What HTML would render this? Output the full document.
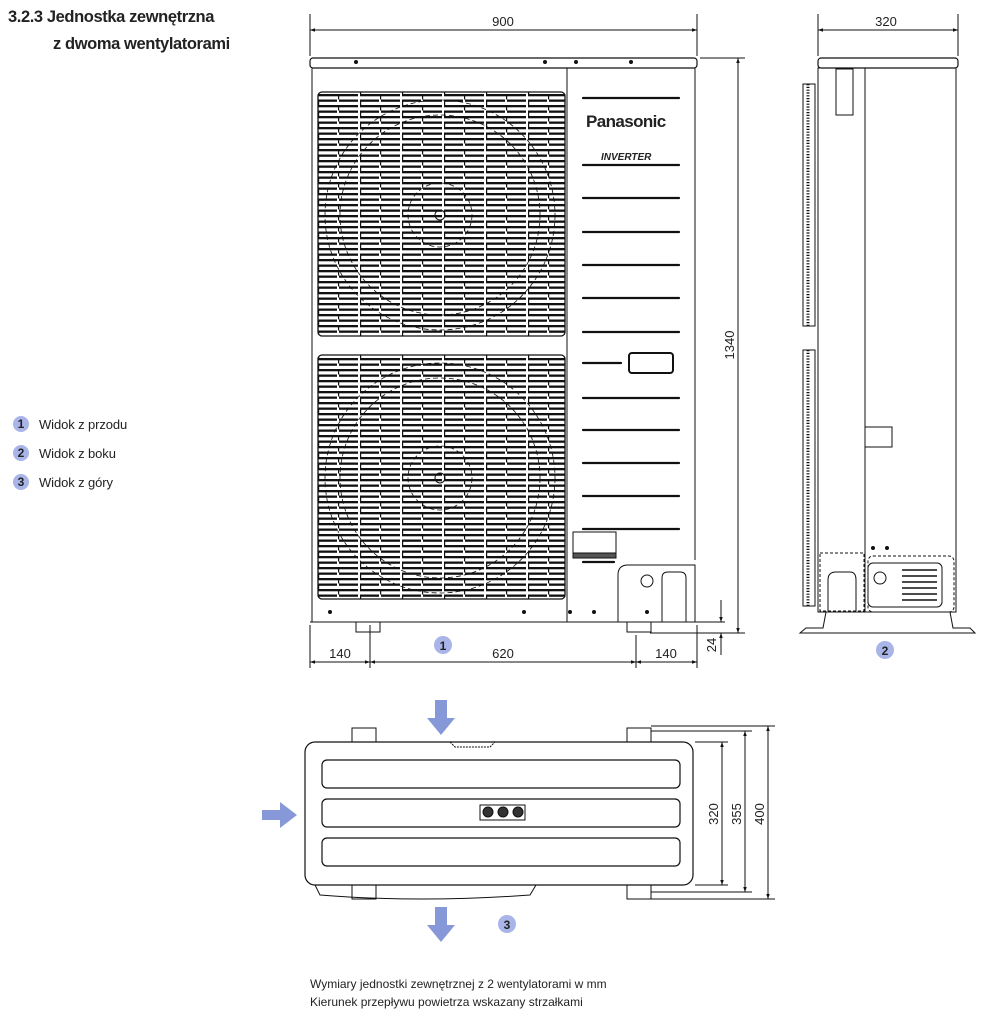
<!DOCTYPE html>
<html><head><meta charset="utf-8">
<style>
html,body{margin:0;padding:0;background:#fff;}
body{width:993px;height:1023px;position:relative;overflow:hidden;font-family:"Liberation Sans",sans-serif;}
.h{position:absolute;font-weight:bold;font-size:16.5px;color:#222;letter-spacing:-0.4px;}
.lg{position:absolute;left:12px;font-size:13px;color:#222;letter-spacing:-0.1px}
.cap{position:absolute;left:310px;font-size:12px;color:#222;}
</style></head><body>
<div class="h" style="left:8px;top:8px">3.2.3 Jednostka zewnętrzna</div>
<div class="h" style="left:53px;top:35px">z dwoma wentylatorami</div>
<div class="cap" style="top:977px">Wymiary jednostki zewnętrznej z 2 wentylatorami w mm</div>
<div class="cap" style="top:995px">Kierunek przepływu powietrza wskazany strzałkami</div>

<svg width="993" height="1023" style="position:absolute;left:0;top:0" xmlns="http://www.w3.org/2000/svg">
<defs>
<pattern id="br" width="42" height="11" patternUnits="userSpaceOnUse" x="318" y="94">
<rect width="42" height="11" fill="#fff"/>
<rect x="0" y="0" width="40" height="2.3" fill="#111"/>
<rect x="0" y="5.5" width="19" height="2.3" fill="#111"/>
<rect x="21" y="5.5" width="19" height="2.3" fill="#111"/>
<rect x="20" y="0" width="1.2" height="5.5" fill="#111"/>
<rect x="0" y="5.5" width="1.2" height="5.5" fill="#111"/>
</pattern>
<marker id="a" viewBox="0 0 10 10" refX="10" refY="5" markerWidth="7" markerHeight="5" orient="auto-start-reverse"><path d="M0,1.5 L10,5 L0,8.5z" fill="#111"/></marker>
</defs>
<g stroke="#111" fill="none" stroke-width="1">
<!-- FRONT VIEW -->
<line x1="310" y1="14" x2="310" y2="56"/><line x1="697" y1="14" x2="697" y2="56"/>
<line x1="310" y1="30" x2="697" y2="30" marker-start="url(#a)" marker-end="url(#a)"/>
<rect x="310" y="58" width="387" height="10" rx="3" stroke-width="1.2"/>
<line x1="312" y1="68" x2="312" y2="622"/><line x1="695" y1="68" x2="695" y2="560"/>
<line x1="567" y1="68" x2="567" y2="622"/>
<line x1="310" y1="622" x2="697" y2="622"/>
<rect x="318" y="92" width="247" height="244" rx="4" fill="url(#br)" stroke-width="1.3"/>
<rect x="318" y="355" width="247" height="244" rx="4" fill="url(#br)" stroke-width="1.3"/>
<g stroke-dasharray="5,3" stroke-width="0.8">
<circle cx="440" cy="215" r="115"/><circle cx="440" cy="215" r="100"/><circle cx="440" cy="215" r="32"/>
<circle cx="440" cy="478" r="115"/><circle cx="440" cy="478" r="100"/><circle cx="440" cy="478" r="32"/>
</g>
<circle cx="440" cy="215" r="5"/><circle cx="440" cy="478" r="5"/>
<g fill="#111" stroke="none">
<circle cx="356" cy="62" r="2"/><circle cx="545" cy="62" r="2"/><circle cx="576" cy="62" r="2"/><circle cx="631" cy="62" r="2"/>
<circle cx="330" cy="612" r="2"/><circle cx="524" cy="612" r="2"/><circle cx="570" cy="612" r="2"/><circle cx="594" cy="612" r="2"/><circle cx="647" cy="612" r="2"/>
</g>
<g stroke-width="2.2" stroke-linecap="round">
<line x1="583" y1="98" x2="679" y2="98"/><line x1="583" y1="165" x2="679" y2="165"/><line x1="583" y1="198" x2="679" y2="198"/>
<line x1="583" y1="232" x2="679" y2="232"/><line x1="583" y1="265" x2="679" y2="265"/><line x1="583" y1="298" x2="679" y2="298"/>
<line x1="583" y1="332" x2="679" y2="332"/><line x1="583" y1="363" x2="621" y2="363"/><line x1="583" y1="398" x2="679" y2="398"/>
<line x1="583" y1="430" x2="679" y2="430"/><line x1="583" y1="463" x2="679" y2="463"/><line x1="583" y1="496" x2="679" y2="496"/>
<line x1="583" y1="529" x2="679" y2="529"/><line x1="583" y1="562" x2="614" y2="562"/>
</g>
<rect x="629" y="353" width="44" height="20" rx="3" stroke-width="2"/>
<rect x="573" y="532" width="43" height="26" fill="#fff"/>
<rect x="573" y="553" width="43" height="5" fill="#555"/>
<path d="M618,622 V575 Q618,565 628,565 H695 V622" />
<circle cx="647" cy="581" r="6"/><path d="M662,622 V578 Q662,572 668,572 H680 Q686,572 686,578 V622"/>
<path d="M356,622 v10 h24 v-10 M627,622 v10 h24 v-10"/>
<line x1="310" y1="625" x2="310" y2="668"/><line x1="370" y1="625" x2="370" y2="668"/><line x1="636" y1="635" x2="636" y2="668"/><line x1="697" y1="625" x2="697" y2="668"/>
<line x1="310" y1="662" x2="370" y2="662" marker-start="url(#a)" marker-end="url(#a)"/>
<line x1="370" y1="662" x2="636" y2="662" marker-start="url(#a)" marker-end="url(#a)"/>
<line x1="636" y1="662" x2="697" y2="662" marker-start="url(#a)" marker-end="url(#a)"/>
<line x1="700" y1="58" x2="745" y2="58"/><line x1="650" y1="633" x2="745" y2="633"/><line x1="697" y1="622" x2="725" y2="622"/>
<line x1="738" y1="58" x2="738" y2="633" marker-start="url(#a)" marker-end="url(#a)"/>
<line x1="721" y1="600" x2="721" y2="622" marker-end="url(#a)"/><line x1="721" y1="655" x2="721" y2="633" marker-end="url(#a)"/>

<!-- SIDE VIEW -->
<line x1="818" y1="14" x2="818" y2="56"/><line x1="958" y1="14" x2="958" y2="56"/>
<line x1="818" y1="30" x2="958" y2="30" marker-start="url(#a)" marker-end="url(#a)"/>
<rect x="818" y="58" width="140" height="10" rx="3" stroke-width="1.2"/>
<rect x="818" y="68" width="138" height="544"/>
<line x1="865" y1="68" x2="865" y2="612"/>
<rect x="836" y="69" width="17" height="46"/>
<g stroke-width="3" stroke-dasharray="1.2,1.6"><line x1="808" y1="84" x2="808" y2="326"/><line x1="808" y1="350" x2="808" y2="606"/></g>
<rect x="803" y="84" width="12" height="242"/><rect x="803" y="350" width="12" height="256"/>
<rect x="865" y="427" width="27" height="20"/>
<rect x="820" y="553" width="44" height="58" stroke-dasharray="3,2"/>
<path d="M828,611 V580 q0,-8 8,-8 h14 q6,0 6,8 V611"/>
<rect x="868" y="556" width="86" height="56" rx="5" stroke-dasharray="3,2"/>
<rect x="868" y="563" width="74" height="44" rx="5"/>
<circle cx="880" cy="578" r="6"/>
<g stroke-width="1.5"><line x1="902" y1="570" x2="937" y2="570"/><line x1="902" y1="576" x2="937" y2="576"/><line x1="902" y1="582" x2="937" y2="582"/><line x1="902" y1="588" x2="937" y2="588"/><line x1="902" y1="594" x2="937" y2="594"/><line x1="902" y1="600" x2="937" y2="600"/></g>
<g fill="#111" stroke="none"><circle cx="873" cy="548" r="2"/><circle cx="887" cy="548" r="2"/></g>
<path d="M800,633 L806,628 H823 L826,612 H950 L953,628 H970 L975,633 Z"/>

<!-- TOP VIEW -->
<rect x="305" y="742" width="388" height="143" rx="10" stroke-width="1.2"/>
<rect x="322" y="760" width="358" height="28" rx="5" stroke-width="1.2"/>
<rect x="322" y="799" width="358" height="28" rx="5" stroke-width="1.2"/>
<rect x="322" y="838" width="358" height="28" rx="5" stroke-width="1.2"/>
<rect x="480" y="805" width="45" height="15"/>
<circle cx="488" cy="812" r="5" fill="#333"/><circle cx="503" cy="812" r="5" fill="#333"/><circle cx="518" cy="812" r="5" fill="#333"/>
<path d="M352,742 v-14 h24 v14 M627,742 v-14 h24 v14 M352,885 v14 h24 v-14 M627,885 v14 h24 v-14"/>
<path d="M450,742 l5,5 h35 l5,-5" stroke-dasharray="2,1"/>
<path d="M315,885 l5,10 q100,8 210,0 l6,-10"/>
<line x1="695" y1="742" x2="728" y2="742"/><line x1="695" y1="885" x2="728" y2="885"/>
<line x1="651" y1="731" x2="752" y2="731"/><line x1="651" y1="892" x2="752" y2="892"/>
<line x1="651" y1="726" x2="775" y2="726"/><line x1="651" y1="899" x2="775" y2="899"/>
<line x1="722" y1="742" x2="722" y2="885" marker-start="url(#a)" marker-end="url(#a)"/>
<line x1="745" y1="731" x2="745" y2="892" marker-start="url(#a)" marker-end="url(#a)"/>
<line x1="768" y1="726" x2="768" y2="899" marker-start="url(#a)" marker-end="url(#a)"/>
</g>
<!-- blue arrows -->
<g fill="#8798d8">
<path d="M435,700 h12 v18 h8 l-14,17 l-14,-17 h8z"/>
<path d="M435,907 h12 v18 h8 l-14,17 l-14,-17 h8z"/>
<path d="M262,810 h18 v-8 l17,13 l-17,13 v-8 h-18z"/>
</g>
<!-- circles -->
<g fill="#a9b4e8">
<circle cx="443" cy="645" r="9"/><circle cx="885" cy="650" r="9"/><circle cx="507" cy="924" r="9"/>
<circle cx="21" cy="424" r="8"/><circle cx="21" cy="453" r="8"/><circle cx="21" cy="482" r="8"/>
</g>
<g font-family="Liberation Sans,sans-serif" font-weight="bold" font-size="12" fill="#222" text-anchor="middle">
<text x="443" y="650">1</text><text x="885" y="655">2</text><text x="507" y="929">3</text>
<text x="21" y="428">1</text><text x="21" y="457">2</text><text x="21" y="486">3</text>
</g>
<g font-family="Liberation Sans,sans-serif" font-size="13" fill="#222" text-anchor="middle">
<text x="503" y="26">900</text><text x="886" y="26">320</text>
<text x="340" y="658">140</text><text x="503" y="658">620</text><text x="666" y="658">140</text>
<text transform="translate(734,345) rotate(-90)">1340</text>
<text transform="translate(716,645) rotate(-90)">24</text>
<text transform="translate(718,814) rotate(-90)">320</text>
<text transform="translate(741,814) rotate(-90)">355</text>
<text transform="translate(764,814) rotate(-90)">400</text>
</g>
<text x="586" y="127" font-family="Liberation Sans,sans-serif" font-weight="bold" font-size="17" fill="#222" letter-spacing="-0.6">Panasonic</text>
<text x="601" y="160" font-family="Liberation Sans,sans-serif" font-weight="bold" font-style="italic" font-size="10" fill="#222">INVERTER</text>
</svg>
<div class="lg" style="top:417px;left:39px">Widok z przodu</div>
<div class="lg" style="top:446px;left:39px">Widok z boku</div>
<div class="lg" style="top:475px;left:39px">Widok z góry</div>
</body></html>
